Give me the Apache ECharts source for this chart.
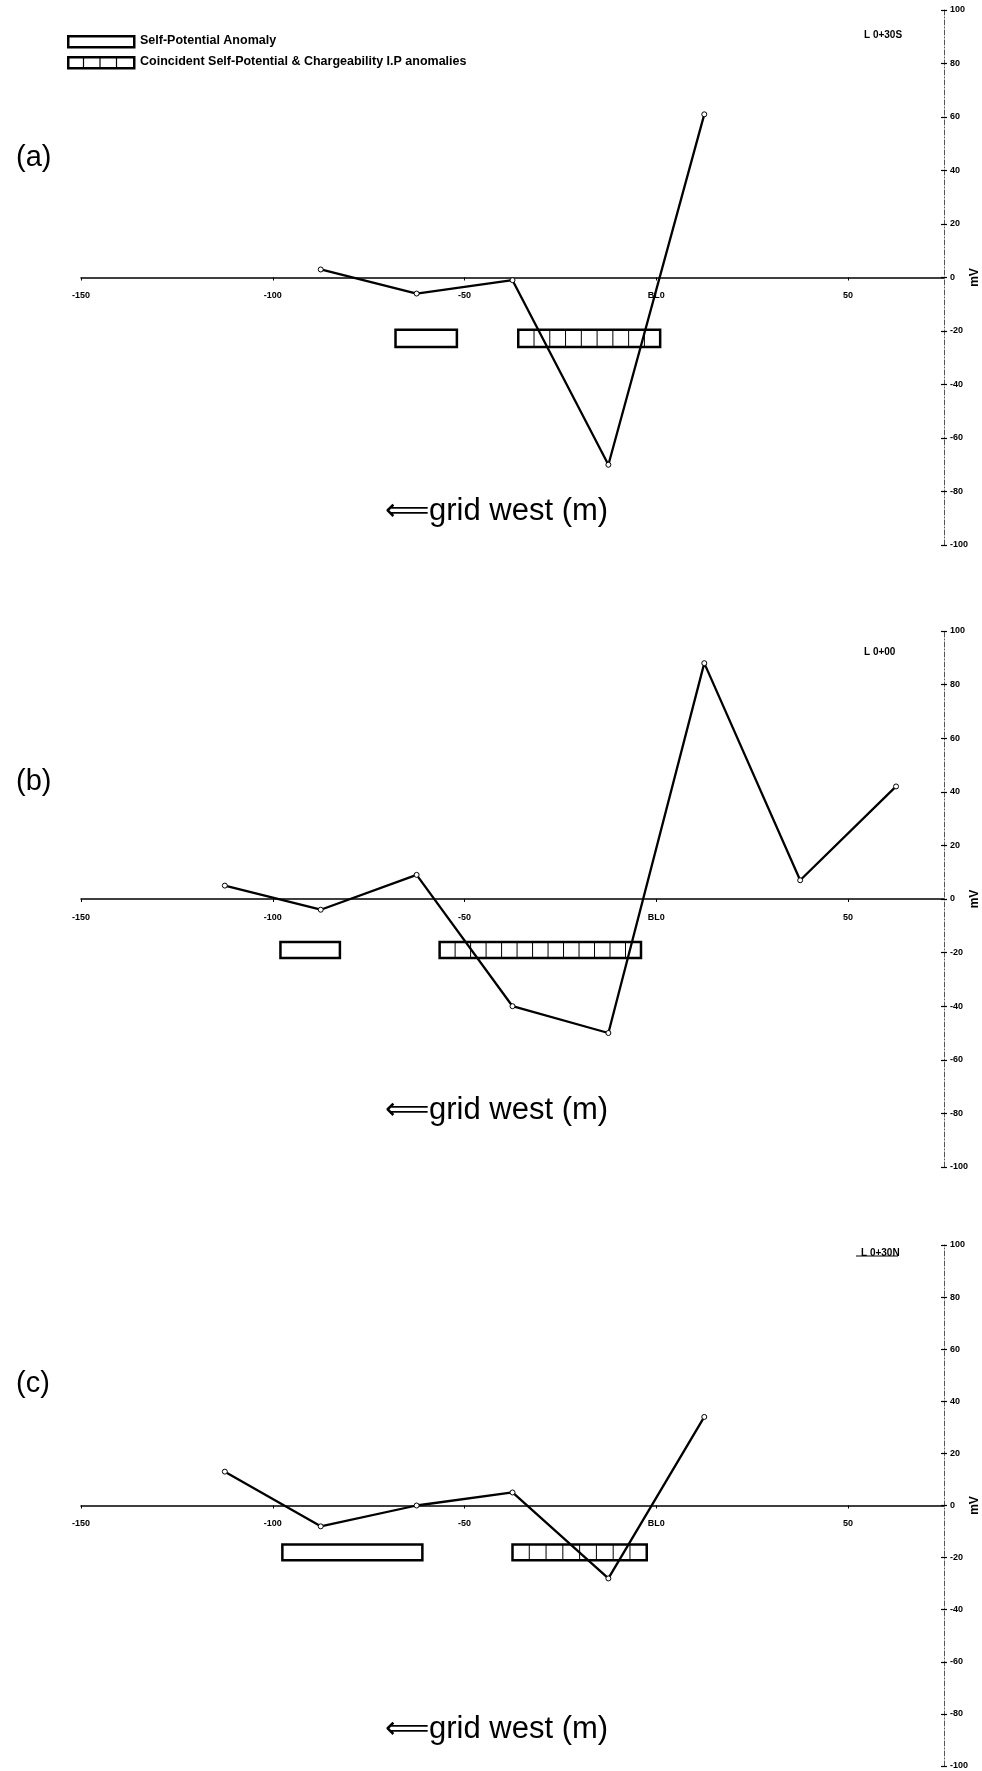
<!DOCTYPE html>
<html>
<head>
<meta charset="utf-8">
<script src="https://cdn.jsdelivr.net/npm/echarts@6/dist/echarts.min.js"></script>
<style>
html,body{margin:0;padding:0;background:#fff;}
#chart{width:982px;height:1771px;}
</style>
</head>
<body>
<div id="chart"></div>
<script>
// ---- data ----
const panelLabels = ['(a)', '(b)', '(c)'];
const lineNames = ['L 0+30S', 'L 0+00', 'L 0+30N'];
const xTickLabels = { '-150': '-150', '-100': '-100', '-50': '-50', '0': 'BL0', '50': '50' };

const stationsA = [-87.5, -62.5, -37.5, -12.5, 12.5];
const spA = [3, -6, -1, -70, 61];
const stationsB = [-112.5, -87.5, -62.5, -37.5, -12.5, 12.5, 37.5, 62.5];
const spB = [5, -4, 9, -40, -50, 88, 7, 42];
const stationsC = [-112.5, -87.5, -62.5, -37.5, -12.5, 12.5];
const spC = [13, -8, 0, 5, -28, 34];

// anomaly boxes: [x start (m), x end (m), mV top, mV bottom, coincident(1)/SP only(0)]
const anomaliesA = [[-68, -52, -19.5, -26, 0], [-36, 1, -19.5, -26, 1]];
const anomaliesB = [[-98, -82.5, -16, -22, 0], [-56.5, -4, -16, -22, 1]];
const anomaliesC = [[-97.5, -61, -15, -21, 0], [-37.5, -2.5, -15, -21, 1]];

const legendTexts = ['Self-Potential Anomaly', 'Coincident Self-Potential & Chargeability I.P anomalies'];
const xAxisTitle = '\u27F8grid west (m)';
const yAxisName = 'mV';

// ---- layout ----
const FONT = '"Liberation Sans", Arial, sans-serif';
const grids = [
  { left: 81, right: 38, top: 10, height: 535, outerBoundsMode: 'none', containLabel: false },
  { left: 81, right: 38, top: 631, height: 536, outerBoundsMode: 'none', containLabel: false },
  { left: 81, right: 38, top: 1245, height: 521, outerBoundsMode: 'none', containLabel: false }
];
const stations = [stationsA, stationsB, stationsC];
const values = [spA, spB, spC];
const anomalies = [anomaliesA, anomaliesB, anomaliesC];

const xAxes = grids.map((g, i) => ({
  type: 'value', gridIndex: i, position: 'bottom', min: -150, max: 75, interval: 50,
  offset: -g.height / 2,
  axisLine: { onZero: false, lineStyle: { color: '#000', width: 1.5 } },
  axisTick: { show: true, length: 3, lineStyle: { color: '#000' } },
  axisLabel: { showMaxLabel: false, color: '#000', fontSize: 9, fontWeight: 'bold', fontFamily: FONT, margin: 14,
    formatter: v => xTickLabels[String(v)] !== undefined ? xTickLabels[String(v)] : '' },
  splitLine: { show: false }
}));
const yAxes = [];
grids.forEach((g, i) => {
  yAxes.push({
    type: 'value', gridIndex: i, position: 'right', min: -100, max: 100, interval: 20,
    name: yAxisName, nameLocation: 'middle', nameRotate: 90, nameGap: 25, nameMoveOverlap: false,
    nameTextStyle: { color: '#000', fontSize: 12, fontWeight: 'bold', fontFamily: FONT },
    axisLine: { show: true, onZero: false, lineStyle: { color: '#555', width: 1, type: [5, 2, 1, 2] } },
    axisTick: { show: true, length: 3, inside: false, lineStyle: { color: '#000', width: 1.2 } },
    axisLabel: { color: '#000', fontSize: 9, fontWeight: 'bold', fontFamily: FONT, margin: 6 },
    splitLine: { show: false }
  });
});
// inner halves of the "+" tick marks on the mV axes
grids.forEach((g, i) => {
  yAxes.push({
    type: 'value', gridIndex: i, position: 'right', min: -100, max: 100, interval: 20,
    axisLine: { show: false, onZero: false },
    axisTick: { show: true, length: 3, inside: true, lineStyle: { color: '#000', width: 1.2 } },
    axisLabel: { show: false },
    splitLine: { show: false }
  });
});

function boxRender(params, api) {
  const x0 = api.value(0), x1 = api.value(1), y0 = api.value(2), y1 = api.value(3), hatch = api.value(4);
  const p0 = api.coord([x0, y0]);
  const p1 = api.coord([x1, y1]);
  const w = p1[0] - p0[0], h = p1[1] - p0[1];
  const children = [{
    type: 'rect', shape: { x: p0[0], y: p0[1], width: w, height: h },
    style: { fill: '#fff', stroke: '#000', lineWidth: 2.5 }
  }];
  if (hatch) {
    const n = Math.max(1, Math.round(w / 16));
    for (let k = 1; k < n; k++) {
      const xx = p0[0] + w * k / n;
      children.push({ type: 'line', shape: { x1: xx, y1: p0[1], x2: xx, y2: p1[1] },
        style: { stroke: '#000', lineWidth: 1 } });
    }
  }
  return { type: 'group', children: children };
}

const series = [];
grids.forEach((g, i) => {
  series.push({
    type: 'custom', xAxisIndex: i, yAxisIndex: i, renderItem: boxRender,
    encode: { x: [0, 1], y: [2, 3] }, data: anomalies[i], z: 2, silent: true
  });
  series.push({
    type: 'line', xAxisIndex: i, yAxisIndex: i, z: 3,
    data: stations[i].map((s, k) => [s, values[i][k]]),
    lineStyle: { color: '#000', width: 2.3 },
    symbol: 'circle', symbolSize: 5,
    itemStyle: { color: '#fff', borderColor: '#000', borderWidth: 1 },
    animation: false
  });
});

const titles = [];
const titleTops = [25, 642, 1243];
const titleLefts = [859, 859, 856];
lineNames.forEach((t, i) => {
  titles.push({ text: t, left: titleLefts[i], top: titleTops[i],
    textStyle: { fontSize: 10, fontWeight: 'bold', color: '#000', fontFamily: FONT } });
});
const panelTops = [138, 762, 1364];
panelLabels.forEach((t, i) => {
  titles.push({ text: t, left: 11, top: panelTops[i],
    textStyle: { fontSize: 29, fontWeight: 'normal', color: '#000', fontFamily: FONT } });
});
const arrowTops = [491, 1090, 1709];
arrowTops.forEach(tp => {
  titles.push({ text: xAxisTitle, left: 380, top: tp,
    textStyle: { fontSize: 31, fontWeight: 'normal', color: '#000', fontFamily: FONT } });
});

// legend drawn as graphic swatches + texts
const graphic = [];
const legendY = [35, 56];
legendTexts.forEach((t, i) => {
  graphic.push({ type: 'rect', left: 67, top: legendY[i], shape: { width: 66, height: 11 },
    style: { fill: '#fff', stroke: '#000', lineWidth: 2.5 } });
  if (i === 1) {
    for (let k = 1; k < 4; k++) {
      graphic.push({ type: 'line', shape: { x1: 67 + 66 * k / 4, y1: legendY[i], x2: 67 + 66 * k / 4, y2: legendY[i] + 11 },
        style: { stroke: '#000', lineWidth: 1.2 } });
    }
  }
  graphic.push({ type: 'text', left: 140, top: legendY[i] - 1,
    style: { text: t, fontSize: 12.5, fontWeight: 'bold', fill: '#000', fontFamily: FONT } });
});
// underline for L 0+30N
graphic.push({ type: 'line', shape: { x1: 856, y1: 1256, x2: 898, y2: 1256 }, style: { stroke: '#000', lineWidth: 1 } });

const chart = echarts.init(document.getElementById('chart'), null, { renderer: 'canvas' });
chart.setOption({
  backgroundColor: '#fff',
  animation: false,
  title: titles,
  grid: grids,
  xAxis: xAxes,
  yAxis: yAxes,
  series: series,
  graphic: graphic
});
</script>
</body>
</html>
